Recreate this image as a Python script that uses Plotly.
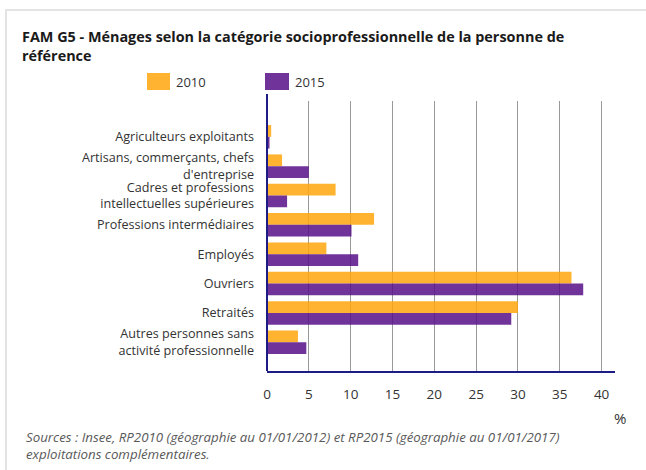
import plotly.graph_objects as go

categories = [
    "Agriculteurs exploitants",
    "Artisans, commerçants, chefs<br>d'entreprise",
    "Cadres et professions<br>intellectuelles supérieures",
    "Professions intermédiaires",
    "Employés",
    "Ouvriers",
    "Retraités",
    "Autres personnes sans<br>activité professionnelle",
]
values_2010 = [0.5, 1.8, 8.2, 12.8, 7.1, 36.4, 30.0, 3.7]
values_2015 = [0.3, 5.0, 2.4, 10.1, 10.9, 37.8, 29.2, 4.7]
series_names = ["2010", "2015"]
x_ticks = [0, 5, 10, 15, 20, 25, 30, 35, 40]

W, H = 646, 470
L, R, T, B = 267, 615, 101, 371

def px(x):
    return (x - L) / (R - L)

def py(y):
    return (B - y) / (B - T)

ORANGE = "rgba(255,166,13,0.85)"
PURPLE = "rgba(87,15,135,0.85)"
NAVY = "#1c1c84"
FONT = "Open Sans"

fig = go.Figure()
fig.add_trace(go.Bar(y=categories, x=values_2010, name=series_names[0], orientation="h",
                     marker=dict(color=ORANGE, line=dict(width=0)), showlegend=False))
fig.add_trace(go.Bar(y=categories, x=values_2015, name=series_names[1], orientation="h",
                     marker=dict(color=PURPLE, line=dict(width=0)), showlegend=False))

shapes = [
    # card frame
    dict(type="path", xref="paper", yref="paper",
         path=f"M {px(6)} {py(480)} L {px(6)} {py(10)} L {px(660)} {py(10)}",
         line=dict(color="#e4e4e4", width=2)),
    # y axis line
    dict(type="line", xref="paper", yref="paper", x0=0, x1=0, y0=py(371), y1=py(94),
         line=dict(color=NAVY, width=2)),
    # legend swatches
    dict(type="rect", xref="paper", yref="paper", x0=px(147), x1=px(170), y0=py(90), y1=py(73),
         fillcolor="#FFB331", line=dict(width=0)),
    dict(type="rect", xref="paper", yref="paper", x0=px(265), x1=px(289), y0=py(90), y1=py(73),
         fillcolor="#703399", line=dict(width=0)),
]

title_font = dict(family=FONT, size=14.4, color="#1a1a1a")
annotations = [
    dict(text="<b>FAM G5 - Ménages selon la catégorie socioprofessionnelle de la personne de<br>référence</b>",
         xref="paper", yref="paper", x=px(20), y=py(46), xanchor="left", yanchor="middle",
         align="left", showarrow=False, font=title_font),
    dict(text=series_names[0], xref="paper", yref="paper", x=px(174), y=py(82), xanchor="left",
         yanchor="middle", showarrow=False, font=dict(family=FONT, size=13, color="#333333")),
    dict(text=series_names[1], xref="paper", yref="paper", x=px(293), y=py(82), xanchor="left",
         yanchor="middle", showarrow=False, font=dict(family=FONT, size=13, color="#333333")),
    dict(text="%", xref="paper", yref="paper", x=px(620), y=py(418), xanchor="center",
         yanchor="middle", showarrow=False, font=dict(family=FONT, size=15, color="#333333")),
    dict(text="<i>Sources : Insee, RP2010 (géographie au 01/01/2012) et RP2015 (géographie au 01/01/2017)<br>exploitations complémentaires.</i>",
         xref="paper", yref="paper", x=px(24), y=py(445), xanchor="left", yanchor="middle",
         align="left", showarrow=False, font=dict(family=FONT, size=13.3, color="#595959")),
]

fig.update_layout(
    width=W, height=H,
    margin=dict(l=L, r=W - R, t=T, b=H - B, pad=0),
    paper_bgcolor="white", plot_bgcolor="white",
    barmode="group", bargap=0.2, bargroupgap=0,
    font=dict(family=FONT, size=13, color="#333333"),
    shapes=shapes, annotations=annotations,
    xaxis=dict(range=[0, 41.6], tickvals=x_ticks, showgrid=True, gridcolor="#999999", gridwidth=1,
               showline=True, linecolor=NAVY, linewidth=1.5, zeroline=False,
               ticks="", tickfont=dict(family=FONT, size=13.5, color="#333333"),
               ticklabelstandoff=10, fixedrange=True),
    yaxis=dict(type="category", range=[7.98, -1.22], showgrid=False, showline=False, zeroline=False,
               ticks="", tickfont=dict(family=FONT, size=12.6, color="#333333"),
               ticklabelstandoff=12, fixedrange=True),
)

fig.write_html("out.html", post_script="document.body.style.margin='0';",
               config={"displayModeBar": False})
